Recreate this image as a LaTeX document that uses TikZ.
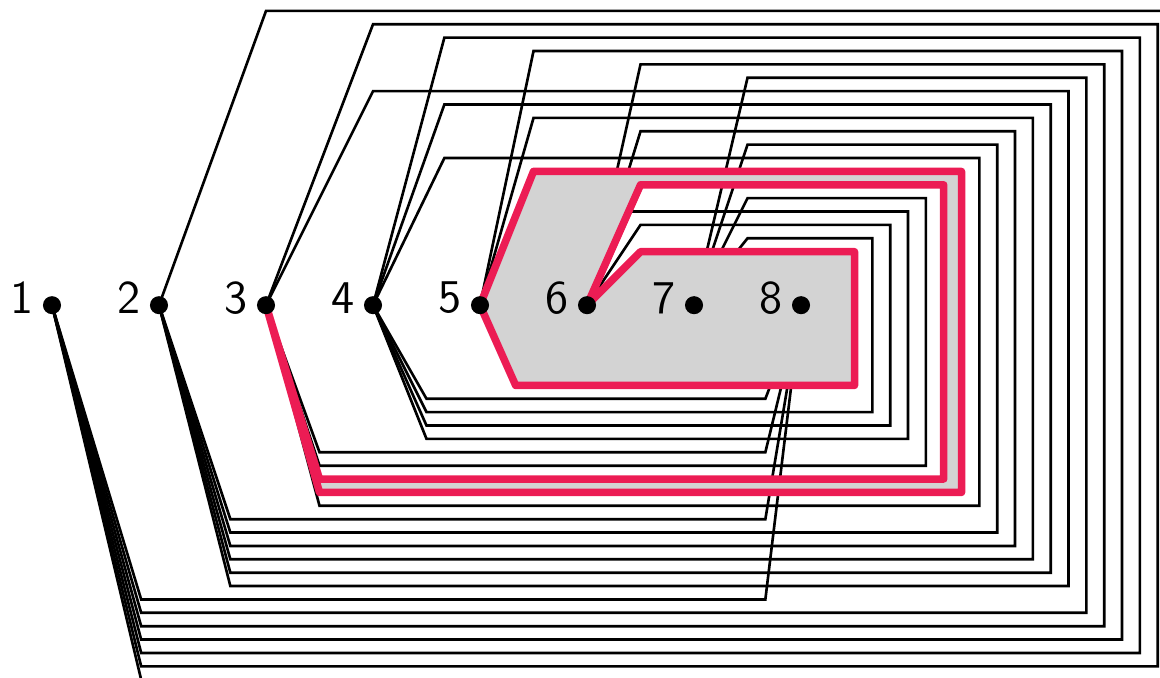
\documentclass[tikz,border=0pt]{standalone}
\usepackage{tikz}

\definecolor{facered}{RGB}{236,28,84}
\definecolor{facegray}{RGB}{211,211,211}

\begin{document}
\begin{tikzpicture}[
  vertex/.style={circle, fill=black, inner sep=0pt, minimum size=4.8pt,
    label={[font=\sffamily\fontsize{12.5}{15}\selectfont, inner sep=2.2pt, yshift=1.9pt]left:#1}},
  link/.style={line width=0.7pt},
  face/.style={fill=facegray, draw=facered, line width=2pt, line join=round}
]
\useasboundingbox (-0.486,-3.475) rectangle (10.355,2.852);
\clip (-0.486,-3.475) rectangle (10.355,2.852);

\foreach \i in {1,...,8}
  \coordinate (p\i) at (\i-1,0);

\foreach \i in {1,...,4} {
  \pgfmathtruncatemacro\jfirst{\i+1}
  \foreach \j in {\jfirst,...,8} {
    \pgfmathsetmacro\yb{-0.125*((8-\i)*(7-\i)/2+9-\j)}
    \pgfmathsetmacro\bx{\i-1+{0.8333,0.6667,0.5,0.5}[\i-1]}
    \ifnum\j=8
      \draw[link] (p\i) -- (\bx,\yb) -- (6.6667,\yb) -- (p\j);
    \else
      \pgfmathtruncatemacro\k{(\i-1)*7-(\i-1)*\i/2+\j-\i-1}
      \pgfmathsetmacro\yt{2.75-0.125*\k}
      \pgfmathsetmacro\rx{10.5-\k/6}
      \pgfmathsetmacro\tx{\j-1+{0,1,1,0.6667,0.5,0.5,0.5}[\j-1]}
      \draw[link] (p\i) -- (\bx,\yb) -- (\rx,\yb) -- (\rx,\yt) -- (\tx,\yt) -- (p\j);
    \fi
  }
}

\filldraw[face] (p3) -- (2.5,-1.75) -- (8.5,-1.75) -- (8.5,1.25) -- (4.5,1.25)
  -- (p5) -- (4.3333,-0.75) -- (7.5,-0.75) -- (7.5,0.5) -- (5.5,0.5)
  -- (p6) -- (5.5,1.125) -- (8.3333,1.125) -- (8.3333,-1.625) -- (2.5,-1.625) -- cycle;

\foreach \i in {1,...,8}
  \node[vertex=\i] (v\i) at (p\i) {};
\end{tikzpicture}
\end{document}
